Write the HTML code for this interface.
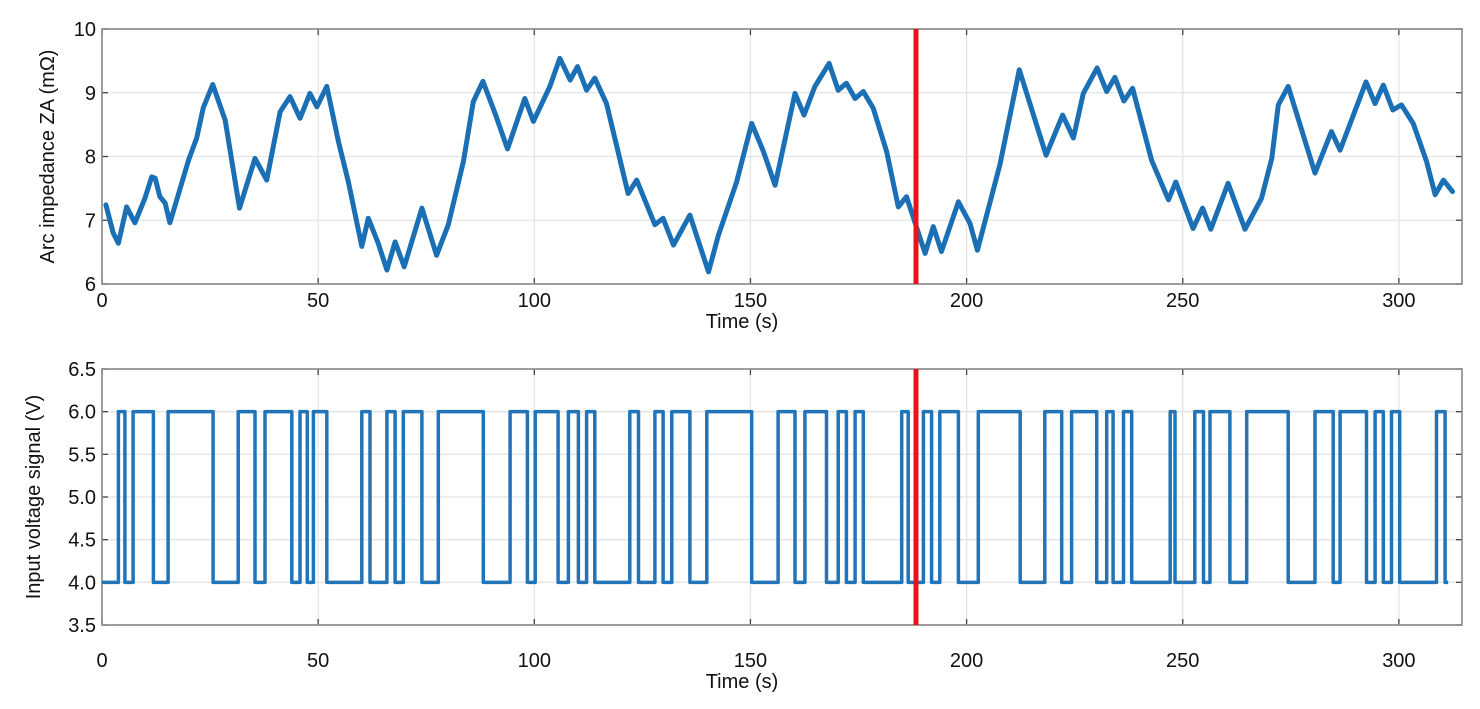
<!DOCTYPE html>
<html><head><meta charset="utf-8"><style>
body{margin:0;background:#fff;}
svg{display:block;font-family:"Liberation Sans",Arial,sans-serif;}
</style></head><body>
<svg id="chart" width="1480" height="709" viewBox="0 0 1480 709" xmlns="http://www.w3.org/2000/svg"></svg>
<script>
const impT=[0.9,2.6,3.8,5.7,7.6,9.9,11.5,12.3,13.4,14.6,15.7,20,21.9,23.4,25.6,28.5,31.8,35.4,38.1,41.2,43.5,45.8,48.1,49.7,52.0,54.7,57.0,60.1,61.6,63.9,65.9,67.8,69.9,74.0,77.4,80.1,83.6,85.9,88.1,90.9,93.8,97.8,99.8,103.6,105.9,108.3,110.0,112.1,114.0,116.7,121.7,123.7,127.9,129.8,132.2,136.0,140.3,142.6,146.8,150.3,153.0,155.7,160.3,162.4,164.9,168.2,170.3,172.2,174.2,176.1,178.4,181.5,184.2,186.1,190.4,192.3,194.2,198.1,200.8,202.5,207.7,212.2,218.4,222.2,224.7,227.0,230.2,232.4,234.3,236.4,238.4,242.8,246.7,248.4,252.4,254.6,256.5,260.5,264.4,268.2,270.6,272.1,274.4,280.6,284.4,286.4,292.4,294.5,296.4,298.6,300.6,303.3,306.4,308.4,310.3,312.4];
const impV=[7.24,6.80,6.64,7.21,6.96,7.34,7.68,7.66,7.37,7.27,6.96,7.94,8.29,8.76,9.13,8.57,7.19,7.97,7.63,8.70,8.94,8.60,8.99,8.78,9.10,8.23,7.60,6.59,7.03,6.64,6.22,6.66,6.27,7.19,6.45,6.93,7.92,8.86,9.18,8.68,8.12,8.91,8.55,9.10,9.54,9.20,9.41,9.04,9.23,8.83,7.42,7.63,6.93,7.03,6.61,7.08,6.19,6.77,7.60,8.52,8.08,7.55,8.99,8.65,9.10,9.46,9.04,9.15,8.91,9.02,8.76,8.08,7.21,7.37,6.48,6.90,6.51,7.29,6.95,6.53,7.87,9.36,8.02,8.65,8.29,8.99,9.39,9.02,9.24,8.87,9.07,7.94,7.32,7.60,6.87,7.19,6.86,7.58,6.86,7.34,7.97,8.81,9.10,7.74,8.39,8.10,9.17,8.83,9.12,8.73,8.81,8.52,7.92,7.40,7.63,7.45];
const pulseStart=[3.8,7.2,15.3,31.5,37.7,45.8,48.9,60.1,65.9,69.7,77.8,94.4,100.2,107.9,112.1,122.1,127.9,131.8,139.9,156.4,162.6,170.3,174.2,185.0,190.0,193.8,202.7,218.1,224.3,232.4,236.3,247.1,252.8,256.3,264.8,280.6,286.4,294.5,298.3,308.7];
const pulseEnd=[5.3,11.9,25.7,35.4,43.9,47.5,52.0,62.0,67.8,74.0,88.2,98.4,105.5,110.2,114.0,124.1,129.8,136.0,150.3,160.3,167.6,172.2,176.1,186.5,191.9,198.1,212.4,222.0,230.1,233.9,238.2,248.2,254.8,260.9,274.4,284.8,292.5,296.4,300.2,310.7];
const lowV=4.0, highV=6.0, sigEnd=311.4;
const xTicks=[0,50,100,150,200,250,300];
const topYTicks=[6,7,8,9,10];
const botYTicks=[3.5,4.0,4.5,5.0,5.5,6.0,6.5];
const botYLabels=["3.5","4.0","4.5","5.0","5.5","6.0","6.5"];
const markerT=188.3;

const NS="http://www.w3.org/2000/svg";
const svg=document.getElementById('chart');
function mk(tag,attrs,parent){const e=document.createElementNS(NS,tag);for(const k in attrs)e.setAttribute(k,attrs[k]);(parent||svg).appendChild(e);return e;}
const L=102,R=1462,XMAX=314.6;
const xs=t=>L+(t/XMAX)*(R-L);
const topP={y0:29,y1:284,min:6,max:10};
const botP={y0:369,y1:625,min:3.5,max:6.5};
const ys=(p,v)=>p.y1-(v-p.min)/(p.max-p.min)*(p.y1-p.y0);

function axes(p,yt,ylab,title,titleX,name,tickDy,titleDy){
  const g=mk('g',{});
  
  
  xTicks.forEach(t=>{const l=mk('line',{x1:xs(t),x2:xs(t),y1:p.y0,y2:p.y1,stroke:'#e4e4e4','stroke-width':1.3},g);
    
    
    mk('line',{x1:xs(t),x2:xs(t),y1:p.y1,y2:p.y1-6,stroke:'#444','stroke-width':1.3},g);
    mk('line',{x1:xs(t),x2:xs(t),y1:p.y0,y2:p.y0+6,stroke:'#444','stroke-width':1.3},g);
    const tx=mk('text',{x:xs(t),y:p.y1+tickDy,'font-size':20,'text-anchor':'middle',fill:'#111'},g);tx.textContent=t;
    
    });
  yt.forEach((v,i)=>{const y=ys(p,v);const l=mk('line',{x1:L,x2:R,y1:y,y2:y,stroke:'#e4e4e4','stroke-width':1.3},g);
    
    
    mk('line',{x1:L,x2:L+6,y1:y,y2:y,stroke:'#444','stroke-width':1.3},g);
    mk('line',{x1:R,x2:R-6,y1:y,y2:y,stroke:'#444','stroke-width':1.3},g);
    const tx=mk('text',{x:L-6,y:y+7,'font-size':20,'text-anchor':'end',fill:'#111'},g);tx.textContent=ylab[i];
    
    });
  const b=mk('rect',{x:L,y:p.y0,width:R-L,height:p.y1-p.y0,fill:'none',stroke:'#888','stroke-width':1.6},g);
  
  
  const xt=mk('text',{x:742,y:p.y1+titleDy,'font-size':20,'text-anchor':'middle',fill:'#111'},g);xt.textContent='Time (s)';
  
  
  const yy=(p.y0+p.y1)/2;
  const ytl=mk('text',{x:titleX,y:yy,'font-size':20,'text-anchor':'middle',fill:'#111',transform:`rotate(-90 ${titleX} ${yy})`},g);ytl.textContent=title;
  
  
}
axes(topP,topYTicks,topYTicks.map(String),'Arc impedance ZA (mΩ)',54,'impedance',23,44);
axes(botP,botYTicks,botYLabels,'Input voltage signal (V)',40,'voltage',42,63);

let d=impT.map((t,i)=>(i?'L':'M')+xs(t).toFixed(1)+' '+ys(topP,impV[i]).toFixed(1)).join(' ');
const ln=mk('path',{d:d,fill:'none',stroke:'#1a6fb5','stroke-width':5,'stroke-linejoin':'round','stroke-linecap':'round'});



let sd='M'+xs(0)+' '+ys(botP,lowV);
pulseStart.forEach((s,i)=>{const e=pulseEnd[i];
  sd+=' L'+xs(s).toFixed(1)+' '+ys(botP,lowV)+' L'+xs(s).toFixed(1)+' '+ys(botP,highV)+' L'+xs(e).toFixed(1)+' '+ys(botP,highV)+' L'+xs(e).toFixed(1)+' '+ys(botP,lowV);});
sd+=' L'+xs(sigEnd).toFixed(1)+' '+ys(botP,lowV);
const sq=mk('path',{d:sd,fill:'none',stroke:'#2274b9','stroke-width':3.5,'stroke-linejoin':'round'});



[topP,botP].forEach((p,i)=>{const r=mk('line',{x1:xs(markerT),x2:xs(markerT),y1:p.y0,y2:p.y1,stroke:'#e8141c','stroke-width':5});
  
  });
</script>
</body></html>
